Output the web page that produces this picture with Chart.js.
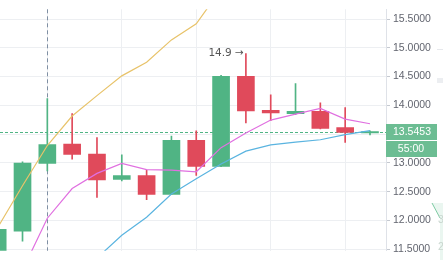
<!DOCTYPE html>
<html>
<head>
<meta charset="utf-8">
<script src="https://cdn.jsdelivr.net/npm/chart.js@4"></script>
<style>
  html, body { margin: 0; padding: 0; background: #fff; }
  #wrap { width: 443px; height: 260px; }
</style>
</head>
<body>
<div id="wrap"><canvas id="c" width="443" height="260"></canvas></div>
<script>
// candle data (index along time axis)
const idx    = [0, 1, 2, 3, 4, 5, 6, 7, 8, 9, 10, 11, 12, 13, 14, 15];
const opens  = [11.30, 11.815, 12.99, 13.326, 13.153, 12.713, 12.782, 12.455, 13.395, 12.939, 14.503, 13.916, 13.858, 13.895, 13.616, 13.52];
const highs  = [11.85, 13.02, 14.12, 13.858, 13.439, 13.142, 12.874, 13.465, 13.556, 14.52, 14.90, 14.185, 14.379, 14.045, 13.96, 13.56];
const lows   = [11.20, 11.64, 12.86, 13.068, 12.40, 12.69, 12.363, 12.45, 12.782, 12.935, 13.697, 13.734, 13.84, 13.59, 13.358, 13.487];
const closes = [11.847, 12.997, 13.32, 13.148, 12.706, 12.782, 12.455, 13.395, 12.939, 14.503, 13.906, 13.868, 13.895, 13.60, 13.529, 13.5453];

// moving averages
const maYellow = [11.879, 12.605, 13.303, 13.815, 14.169, 14.513, 14.75, 15.137, 15.416, 16.02, null, null, null, null, null, null];
const maPink   = [null, 11.137, 12.04, 12.556, 12.819, 12.992, 12.884, 12.874, 12.847, 13.266, 13.519, 13.745, 13.847, 13.948, 13.761, 13.681];
const maBlue   = [null, null, null, null, 11.347, 11.745, 12.056, 12.46, 12.726, 12.981, 13.206, 13.315, 13.363, 13.403, 13.492, 13.561];

const yTicks = [11.5, 12.0, 12.5, 13.0, 13.5, 14.0, 14.5, 15.0, 15.5];
const xGrid = [2, 5, 8, 11, 14];
const crossAt = 2;
const lastPrice = 13.5453;
const countdown = "55:00";
const highIdx = 10;
const highLabel = "14.9";

const UP = "#50b484";
const DOWN = "#e04a5b";

const candleColors = idx.map(i => closes[i] >= opens[i] ? UP : DOWN);
const bodies = idx.map(i => ({ x: i, y: [opens[i], closes[i]] }));
const wicks = idx.map(i => ({ x: i, y: [lows[i], highs[i]] }));
const toPts = arr => idx.map(i => ({ x: i, y: arr[i] }));

const overlay = {
  id: "overlay",
  beforeDatasetsDraw(chart) {
    const { ctx, chartArea: a, scales: { x, y } } = chart;
    ctx.save();
    ctx.lineWidth = 1;
    // crosshair
    const cx = Math.round(x.getPixelForValue(crossAt)) + 0.5;
    ctx.strokeStyle = "#7f8fa3";
    ctx.setLineDash([4, 3]);
    ctx.beginPath();
    ctx.moveTo(cx, a.top);
    ctx.lineTo(cx, a.bottom);
    ctx.stroke();
    // last price line
    const py = Math.round(y.getPixelForValue(lastPrice)) + 0.5;
    ctx.strokeStyle = UP;
    ctx.setLineDash([3, 2]);
    ctx.beginPath();
    ctx.moveTo(a.left, py);
    ctx.lineTo(a.right, py);
    ctx.stroke();
    ctx.restore();
  },
  afterDraw(chart) {
    const { ctx, chartArea: a, scales: { x, y } } = chart;
    ctx.save();
    // price + countdown boxes
    const py = y.getPixelForValue(lastPrice);
    ctx.fillStyle = "#6cbd93";
    ctx.fillRect(a.right, Math.round(py) - 8, 51, 16);
    ctx.fillRect(a.right, Math.round(py) + 9, 51, 16);
    ctx.fillStyle = "#fff";
    ctx.font = "10.5px 'Liberation Sans', Arial, sans-serif";
    ctx.textAlign = "center";
    ctx.textBaseline = "middle";
    ctx.fillText(lastPrice.toFixed(4), a.right + 26, Math.round(py) + 0.5);
    ctx.fillText(countdown, a.right + 25, Math.round(py) + 17.5);

    // high marker
    const hx = x.getPixelForValue(highIdx);
    const hy = y.getPixelForValue(highs[highIdx]);
    ctx.fillStyle = "#555";
    ctx.textAlign = "right";
    ctx.font = "10.5px 'DejaVu Sans', sans-serif";
    ctx.fillText(highLabel + " \u2192", hx - 2, hy);

    // right side strip
    ctx.fillStyle = "#eceef1";
    ctx.fillRect(437, 78, 6, 5);
    ctx.fillStyle = "#e6e8ec";
    ctx.fillRect(437, 49, 6, 1);
    ctx.fillStyle = "rgba(80,180,132,0.12)";
    ctx.beginPath();
    ctx.moveTo(432, 203);
    ctx.lineTo(440, 218);
    ctx.lineTo(440, 260);
    ctx.lineTo(443, 260);
    ctx.lineTo(443, 203);
    ctx.closePath();
    ctx.fill();
    ctx.strokeStyle = "#7ccaa2";
    ctx.lineWidth = 1;
    ctx.beginPath();
    ctx.moveTo(432, 203);
    ctx.lineTo(440, 218);
    ctx.stroke();
    ctx.fillStyle = "#c9d6cf";
    ctx.textAlign = "left";
    ctx.font = "10.5px 'Liberation Sans', Arial, sans-serif";
    ctx.fillText("3", 438, 220);
    ctx.fillText("2", 438, 247);
    ctx.restore();
  }
};

const lineDs = (data, color) => ({
  type: "line",
  data: toPts(data),
  borderColor: color,
  borderWidth: 1.2,
  pointRadius: 0,
  tension: 0,
  fill: false,
  order: 1
});

new Chart(document.getElementById("c"), {
  type: "bar",
  data: {
    datasets: [
      lineDs(maYellow, "#e8c36a"),
      lineDs(maPink, "#e070e0"),
      lineDs(maBlue, "#5ab4e0"),
      {
        data: bodies,
        backgroundColor: candleColors,
        borderWidth: 0,
        barThickness: 17,
        grouped: false,
        order: 2
      },
      {
        data: wicks,
        backgroundColor: candleColors,
        borderWidth: 0,
        barThickness: 1,
        grouped: false,
        order: 3
      }
    ]
  },
  options: {
    responsive: false,
    animation: false,
    layout: { padding: 0 },
    plugins: { legend: { display: false }, tooltip: { enabled: false } },
    scales: {
      x: {
        type: "linear",
        min: 0.093,
        max: 15.645,
        offset: false,
        grid: { color: "#edeff2", offset: false, drawTicks: false },
        border: { display: false },
        ticks: { display: false },
        afterBuildTicks: s => { s.ticks = xGrid.map(v => ({ value: v })); },
        afterFit: s => { s.height = 0; }
      },
      y: {
        position: "right",
        min: 11.476,
        max: 15.669,
        grid: { color: "#edeff2", tickColor: "#c5c9d0", tickLength: 4 },
        border: { color: "#dfe2e8" },
        ticks: {
          padding: 3,
          color: "#62656f",
          font: { family: "'Liberation Sans', Arial, sans-serif", size: 10.5 },
          callback: v => Number(v).toFixed(4)
        },
        afterBuildTicks: s => { s.ticks = yTicks.map(v => ({ value: v })); },
        afterFit: s => { s.width = 57; }
      }
    }
  },
  plugins: [overlay]
});
</script>
</body>
</html>
